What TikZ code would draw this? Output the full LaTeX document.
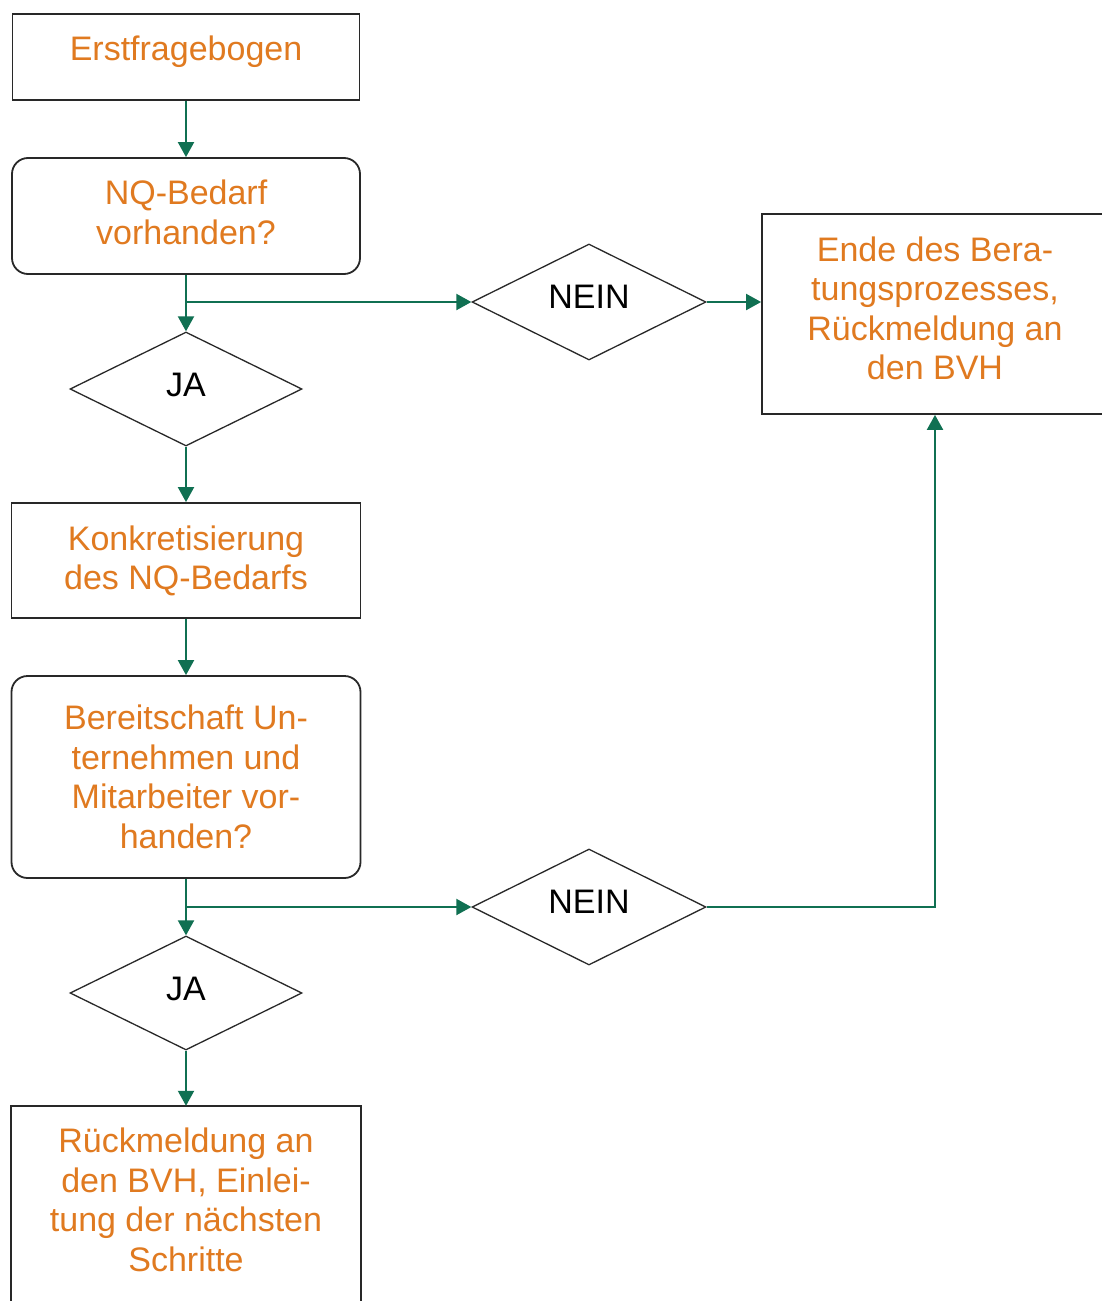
\documentclass[tikz,border=0pt]{standalone}
\usepackage{fontspec}
\setmainfont{Liberation Sans}
\usetikzlibrary{shapes.geometric,arrows.meta}
\definecolor{txtorange}{RGB}{224,122,32}
\definecolor{flowgreen}{RGB}{16,112,82}
\definecolor{edgegray}{RGB}{40,40,40}
\begin{document}
\begin{tikzpicture}[x=1pt,y=-1pt,
  every node/.style={font=\fontsize{34}{39.5}\selectfont, align=center, inner sep=0pt},
  box/.style={draw=edgegray, line width=1.8pt, text=txtorange, rectangle},
  rbox/.style={box, rounded corners=16pt},
  decision/.style={draw=edgegray, line width=1.3pt, diamond, text=black, minimum width=232pt, minimum height=114pt},
  flow/.style={draw=flowgreen, line width=2pt, -{Triangle[length=15pt,width=16pt]}},
  openedge/.style={draw=edgegray, line width=1.8pt}]
\useasboundingbox (0,0) rectangle (1102,1301);
\clip (0,0) rectangle (1102,1301);
\fill[white] (0,0) rectangle (1102,1301);

\node[box, minimum width=347pt, minimum height=86pt, text depth=17pt] (erst) at (186,57) {Erstfragebogen};
\node[rbox, minimum width=348pt, minimum height=116pt, text depth=8pt] (bedarf) at (186,216) {NQ-Bedarf\\vorhanden?};
\node[decision, text depth=8pt] (ja1) at (186,389) {JA};
\node[decision, minimum width=234pt, minimum height=116pt, text depth=10pt] (nein1) at (589,302) {NEIN};
\node[box, minimum width=346pt, minimum height=200pt, text depth=12pt] (ende) at (935,314) {Ende des Bera-\\tungsprozesses,\\Rückmeldung an\\den BVH};
\node[box, minimum width=349pt, minimum height=115pt, text depth=6pt] (konk) at (186,560.5) {Konkretisierung\\des NQ-Bedarfs};
\node[rbox, minimum width=349pt, minimum height=202pt] (bereit) at (186,777) {Bereitschaft Un-\\ternehmen und\\Mitarbeiter vor-\\handen?};
\node[decision, text depth=8pt] (ja2) at (186,993) {JA};
\node[decision, minimum width=234pt, minimum height=116pt, text depth=10pt] (nein2) at (589,907) {NEIN};
\node[rectangle, text=txtorange, minimum width=349pt, minimum height=188pt] (rueck) at (186,1200) {Rückmeldung an\\den BVH, Einlei-\\tung der nächsten\\Schritte};
\draw[openedge] ([yshift=-30pt]rueck.south west) -- (rueck.north west) -- (rueck.north east) -- ([yshift=-30pt]rueck.south east);

\draw[flow] (erst.south) -- (bedarf.north);
\draw[flow] (bedarf.south) -- (ja1.north);
\draw[flow] (bedarf.south |- nein1.west) -- (nein1.west);
\draw[flow] (nein1.east) -- (nein1.east -| ende.west);
\draw[flow] (ja1.south) -- (konk.north);
\draw[flow] (konk.south) -- (bereit.north);
\draw[flow] (bereit.south) -- (ja2.north);
\draw[flow] (bereit.south |- nein2.west) -- (nein2.west);
\draw[flow] (nein2.east) -| (ende.south);
\draw[flow] (ja2.south) -- (rueck.north);
\end{tikzpicture}
\end{document}
